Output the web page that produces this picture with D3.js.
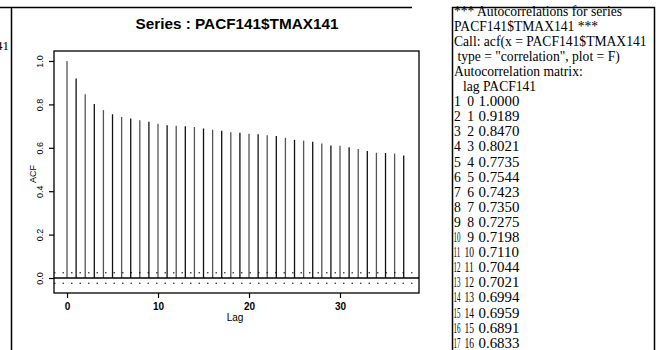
<!DOCTYPE html>
<html><head><meta charset="utf-8">
<script src="https://cdn.jsdelivr.net/npm/d3@7"></script>
<style>body{margin:0;background:#fff}svg{display:block}</style>
</head><body>
<svg id="c" width="660" height="350"></svg>
<script>
const seriesName = "PACF141$TMAX141";
const lags = d3.range(0, 38);
const acfValues = [1.0000,0.9189,0.8470,0.8021,0.7735,0.7544,0.7423,0.7350,0.7275,0.7198,
  0.7110,0.7044,0.7021,0.6994,0.6959,0.6891,0.6833,0.678,0.672,0.669,
  0.665,0.663,0.658,0.654,0.646,0.637,0.633,0.628,0.620,0.611,
  0.610,0.602,0.594,0.585,0.577,0.576,0.573,0.565];
const confBand = [0.024, -0.024];
const xTicks = [0, 10, 20, 30];
const yTicks = [0.0, 0.2, 0.4, 0.6, 0.8, 1.0];
const textLines = ["*** Autocorrelations for series", "PACF141$TMAX141 ***",
  "Call: acf(x = PACF141$TMAX141", " type = \"correlation\", plot = F)", "Autocorrelation matrix:"];
const nRows = 17;

const svg = d3.select("#c");
const L = 54, R = 419, T = 51, B = 293;
const x = d3.scaleLinear().domain([-1.43, 38.68]).range([L, R]);
const y = d3.scaleLinear().domain([-0.069, 1.046]).range([B, T]);
const sans = "Liberation Sans, Arial";

// outer frame pieces
svg.append("line").attr("x1",0).attr("x2",412).attr("y1",7.5).attr("y2",7.5).attr("stroke","#000").attr("stroke-width",1.5);
svg.append("line").attr("x1",11.5).attr("x2",11.5).attr("y1",7).attr("y2",350).attr("stroke","#000").attr("stroke-width",1.5);
svg.append("text").attr("x",9).attr("y",50).attr("text-anchor","end")
  .attr("font-family","Liberation Serif").attr("font-size",13).text("141");

// title
svg.append("text").attr("x",237).attr("y",29).attr("text-anchor","middle")
  .attr("font-family",sans).attr("font-weight","bold").attr("font-size",15.3)
  .text("Series : " + seriesName);

// plot box
svg.append("rect").attr("x",L).attr("y",T).attr("width",R-L).attr("height",B-T)
  .attr("fill","none").attr("stroke","#000").attr("stroke-width",1.3);

// bars
svg.append("g").selectAll("line").data(lags).join("line")
  .attr("x1", d => x(d)).attr("x2", d => x(d))
  .attr("y1", y(0)).attr("y2", d => y(acfValues[d]))
  .attr("stroke", (d,i) => i % 2 ? "#111" : "#555").attr("stroke-width", 1.3);

// zero line
svg.append("line").attr("x1",L).attr("x2",R).attr("y1",y(0)).attr("y2",y(0))
  .attr("stroke","#000").attr("stroke-width",1.6);
// confidence lines
confBand.forEach(c => svg.append("line").attr("x1",L).attr("x2",R).attr("y1",y(c)).attr("y2",y(c))
  .attr("stroke","#000").attr("stroke-width",1).attr("stroke-dasharray","1.5,7"));

// axes
const ya = svg.append("g").attr("transform",`translate(${L},0)`)
  .call(d3.axisLeft(y).tickValues(yTicks).tickSize(5).tickFormat(d3.format(".1f")));
ya.select(".domain").remove();
ya.selectAll(".tick text").attr("transform","translate(-14,0) rotate(-90)")
  .attr("x",0).attr("y",0).attr("dy","0.35em").attr("text-anchor","middle")
  .attr("font-family",sans).attr("font-size",9);
ya.selectAll("line").attr("stroke-width",1.2);

const xa = svg.append("g").attr("transform",`translate(0,${B})`)
  .call(d3.axisBottom(x).tickValues(xTicks).tickSize(5).tickFormat(d3.format("d")));
xa.select(".domain").remove();
xa.selectAll("text").attr("y",10).attr("font-family",sans).attr("font-size",10).attr("font-weight","bold");
xa.selectAll("line").attr("stroke-width",1.2);

svg.append("text").attr("transform","translate(36,174) rotate(-90)").attr("text-anchor","middle")
  .attr("font-family",sans).attr("font-size",9).text("ACF");
svg.append("text").attr("x",235).attr("y",321).attr("text-anchor","middle")
  .attr("font-family",sans).attr("font-size",10).text("Lag");

// text panel
svg.append("rect").attr("x",452.5).attr("y",7.5).attr("width",202).attr("height",360)
  .attr("fill","none").attr("stroke","#000").attr("stroke-width",1.5);
const fs = 13.6;
const tg = svg.append("g").attr("font-family","Liberation Serif, Times New Roman").attr("font-size",fs).attr("fill","#000");
const lh = 15.1, y0 = 15.5;
textLines.forEach((t,i) => tg.append("text").attr("x",454).attr("y",y0+i*lh).style("white-space","pre").text(t));
tg.append("text").attr("x",463).attr("y",y0+5*lh).text("lag PACF141");
const fmt = d3.format(".4f");
const digitW = fs * 0.5;
for (let i = 0; i < nRows; i++) {
  const yy = y0 + (6+i)*lh;
  const rn = String(i+1), lg = String(lags[i]);
  if (rn.length > 1) {
    tg.append("text").attr("transform",`translate(453.5,${yy}) scale(${7 / (digitW*2)},1)`).text(rn);
  } else {
    tg.append("text").attr("x",454).attr("y",yy).text(rn);
  }
  if (lg.length > 1) {
    tg.append("text").attr("transform",`translate(464.5,${yy}) scale(${9.5 / (digitW*2)},1)`).text(lg);
  } else {
    tg.append("text").attr("x",474).attr("y",yy).attr("text-anchor","end").text(lg);
  }
  tg.append("text").attr("transform",`translate(478.5,${yy}) scale(${41 / (digitW*5.5)},1)`)
    .text(fmt(acfValues[i]));
}
</script>
</body></html>
